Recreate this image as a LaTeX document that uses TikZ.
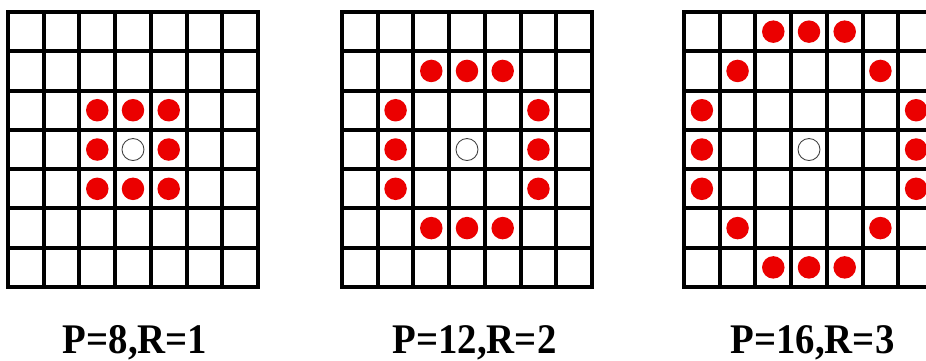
\documentclass[tikz,border=0pt]{standalone}
\usepackage{fontspec}
\setmainfont{Liberation Serif}
\usetikzlibrary{positioning}
\definecolor{dotred}{RGB}{235,0,0}
\newcommand{\plab}[1]{\scalebox{0.92}[1]{#1}}

\begin{document}
\begin{tikzpicture}[
    x=0.02cm, y=-0.02cm,
    gridline/.style={line width=2.3pt, black, line cap=rect},
    dot/.style={circle, fill=dotred, inner sep=0pt, minimum size=0.45cm},
    centre/.style={circle, draw=black!75, line width=0.5pt, fill=white, inner sep=0pt, minimum size=0.44cm},
    lbl/.style={font=\bfseries\fontsize{24}{24}\selectfont, anchor=base}
]
\useasboundingbox (0,0) rectangle (926,360);
\clip (0,0) rectangle (926,360);

% the three 7x7 grids
\foreach \gx in {8,342,684} {
  \foreach \i in {0,...,7} {
    \draw[gridline] (\gx+\i*35.71,12) -- (\gx+\i*35.71,287);
    \draw[gridline] (\gx,12+\i*39.29) -- (\gx+250,12+\i*39.29);
  }
}

% P=8, R=1
\node[centre] (c1) at (8+17.86+3*35.71, 31.64+3*39.29) {};
\foreach \c/\r in {2/2,3/2,4/2,2/3,4/3,2/4,3/4,4/4}
  \node[dot] (a-\c-\r) at (8+17.86+\c*35.71, 31.64+\r*39.29) {};

% P=12, R=2
\node[centre] (c2) at (342+17.86+3*35.71, 31.64+3*39.29) {};
\foreach \c/\r in {2/1,3/1,4/1,1/2,5/2,1/3,5/3,1/4,5/4,2/5,3/5,4/5}
  \node[dot] (b-\c-\r) at (342+17.86+\c*35.71, 31.64+\r*39.29) {};

% P=16, R=3
\node[centre] (c3) at (684+17.86+3*35.71, 31.64+3*39.29) {};
\foreach \c/\r in {2/0,3/0,4/0,1/1,5/1,0/2,6/2,0/3,6/3,0/4,6/4,1/5,5/5,2/6,3/6,4/6}
  \node[dot] (d-\c-\r) at (684+17.86+\c*35.71, 31.64+\r*39.29) {};

% labels
\node[lbl] (l1) at (135,353) {\plab{P=8,R=1}};
\node[lbl] (l2) at (474.5,353) {\plab{P=12,R=2}};
\node[lbl] (l3) at (812.5,353) {\plab{P=16,R=3}};
\end{tikzpicture}
\end{document}
